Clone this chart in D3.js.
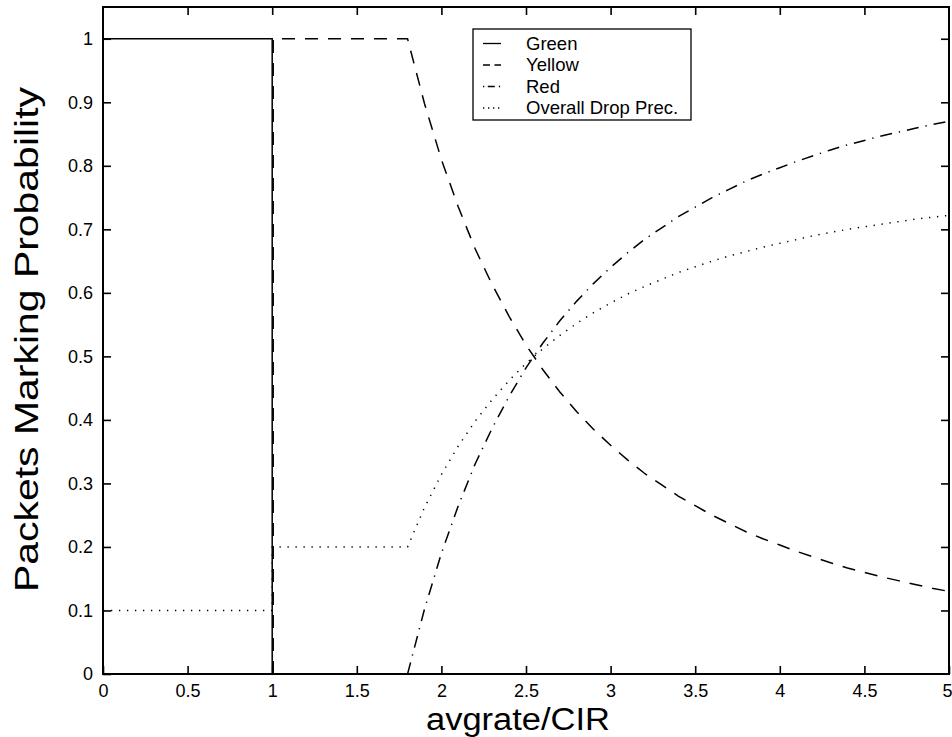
<!DOCTYPE html>
<html>
<head>
<meta charset="utf-8">
<script src="https://cdn.jsdelivr.net/npm/d3@7"></script>
<style>
  body { margin: 0; background: #fff; }
  svg { display: block; font-family: "Liberation Sans", Arial, Helvetica, sans-serif; }
</style>
</head>
<body>
<svg id="chart" width="952" height="737"></svg>
<script>
// tick values
var xTicks = [0, 0.5, 1, 1.5, 2, 2.5, 3, 3.5, 4, 4.5, 5];
var yTicks = [0, 0.1, 0.2, 0.3, 0.4, 0.5, 0.6, 0.7, 0.8, 0.9, 1];

// x samples of the decaying part (avgrate/CIR > 1.8)
var decayX = [1.8, 1.9, 2.0, 2.1, 2.2, 2.3, 2.4, 2.5, 2.6, 2.7, 2.8, 2.9, 3.0, 3.1, 3.2, 3.3, 3.4,
              3.5, 3.6, 3.7, 3.8, 3.9, 4.0, 4.1, 4.2, 4.3, 4.4, 4.5, 4.6, 4.7, 4.8, 4.9, 5.0];

// series
var greenX = [0, 1, 1];
var greenY = [1, 1, 0];

var yellowX = [1.006, 1.006].concat(decayX);
var yellowY = [0, 1,
               1.000, 0.898, 0.810, 0.735, 0.669, 0.613, 0.563, 0.518, 0.479, 0.444, 0.413, 0.385, 0.360,
               0.337, 0.316, 0.298, 0.280, 0.265, 0.250, 0.237, 0.224, 0.213, 0.203, 0.193, 0.184, 0.175,
               0.167, 0.160, 0.153, 0.147, 0.141, 0.135, 0.130];

var redX = decayX;
var redY = [0.000, 0.102, 0.190, 0.265, 0.331, 0.387, 0.437, 0.482, 0.521, 0.556, 0.587, 0.615, 0.640,
            0.663, 0.684, 0.702, 0.720, 0.735, 0.750, 0.763, 0.776, 0.787, 0.797, 0.807, 0.816, 0.825,
            0.833, 0.840, 0.847, 0.853, 0.859, 0.865, 0.870];

var overallX = [0, 1, 1].concat(decayX);
var overallY = [0.1, 0.1, 0.2,
                0.200, 0.262, 0.314, 0.359, 0.398, 0.432, 0.462, 0.489, 0.512, 0.533, 0.552, 0.569, 0.584,
                0.598, 0.610, 0.621, 0.632, 0.641, 0.650, 0.658, 0.665, 0.672, 0.678, 0.684, 0.690, 0.695,
                0.700, 0.704, 0.708, 0.712, 0.716, 0.719, 0.722];

var seriesNames = ["Green", "Yellow", "Red", "Overall Drop Prec."];

var margin = {top: 7, right: 3, bottom: 63, left: 103};
var width = 952 - margin.left - margin.right;
var height = 737 - margin.top - margin.bottom;

var svg = d3.select("#chart");
var g = svg.append("g").attr("transform", "translate(" + margin.left + "," + margin.top + ")");

var x = d3.scaleLinear().domain([0, 5]).range([0, width]);
var y = d3.scaleLinear().domain([0, 1.05]).range([height, 0]);

//Format tick labels like "0", "0.5", "1"
function fmt(d) { return d3.format("~g")(d); }

//Axes with inward ticks
var axisB = g.append("g").attr("transform", "translate(0," + height + ")")
    .call(d3.axisBottom(x).tickValues(xTicks).tickFormat(fmt).tickSizeInner(-8).tickSizeOuter(0).tickPadding(10));
var axisL = g.append("g")
    .call(d3.axisLeft(y).tickValues(yTicks).tickFormat(fmt).tickSizeInner(-8).tickSizeOuter(0).tickPadding(10));
var axisT = g.append("g")
    .call(d3.axisTop(x).tickValues(xTicks.slice(1, -1)).tickFormat("").tickSizeInner(-8).tickSizeOuter(0));
var axisR = g.append("g").attr("transform", "translate(" + width + ",0)")
    .call(d3.axisRight(y).tickValues(yTicks.slice(1)).tickFormat("").tickSizeInner(-8).tickSizeOuter(0));

[axisB, axisL, axisT, axisR].forEach(function(a) {
    a.select(".domain").remove();
    a.selectAll(".tick line").attr("stroke", "#000").attr("stroke-width", 1.6);
    a.selectAll("text").attr("fill", "#000").attr("font-size", 18)
        .attr("font-family", "'Liberation Sans', Arial, Helvetica, sans-serif");
});

//Last x label sits on the right edge
axisB.selectAll(".tick text").filter(function(d) { return d === 5; }).attr("dx", "-2");

//Data lines
var line = d3.line().x(function(d) { return x(d[0]); }).y(function(d) { return y(d[1]); });

function pairs(xs, ys) { return xs.map(function(v, i) { return [v, ys[i]]; }); }

var series = [
    {pts: pairs(overallX, overallY), dash: "1.3,6.7"},
    {pts: pairs(redX, redY), dash: "12,7,1.3,7"},
    {pts: pairs(yellowX, yellowY), dash: "13,10"},
    {pts: pairs(greenX, greenY), dash: null}
];

series.forEach(function(s) {
    g.append("path")
        .attr("d", line(s.pts))
        .attr("fill", "none")
        .attr("stroke", "#000")
        .attr("stroke-width", 1.5)
        .attr("stroke-dasharray", s.dash);
});

//Frame
g.append("rect")
    .attr("x", 0).attr("y", 0).attr("width", width).attr("height", height)
    .attr("fill", "none").attr("stroke", "#000").attr("stroke-width", 2);

//Legend
var legendDash = [null, "7,4.5", "1.3,3.5,7,4,1.3", "1.3,3.7"];
var lg = svg.append("g");
lg.append("rect")
    .attr("x", 473).attr("y", 29).attr("width", 218).attr("height", 91)
    .attr("fill", "#fff").attr("stroke", "#000").attr("stroke-width", 1.3);

seriesNames.forEach(function(name, i) {
    var base = 49.5 + i * 21.5;
    lg.append("line")
        .attr("x1", 483).attr("x2", 501)
        .attr("y1", base - 6).attr("y2", base - 6)
        .attr("stroke", "#000").attr("stroke-width", 1.3)
        .attr("stroke-dasharray", legendDash[i]);
    lg.append("text")
        .attr("x", 526).attr("y", base)
        .attr("font-size", 18.5)
        .text(name);
});

//Axis titles
svg.append("text")
    .attr("x", 426).attr("y", 730)
    .attr("font-size", 31)
    .attr("textLength", 184)
    .attr("lengthAdjust", "spacingAndGlyphs")
    .text("avgrate/CIR");

svg.append("text")
    .attr("transform", "translate(38,592) rotate(-90)")
    .attr("font-size", 33)
    .attr("textLength", 505)
    .attr("lengthAdjust", "spacingAndGlyphs")
    .text("Packets Marking Probability");
</script>
</body>
</html>
